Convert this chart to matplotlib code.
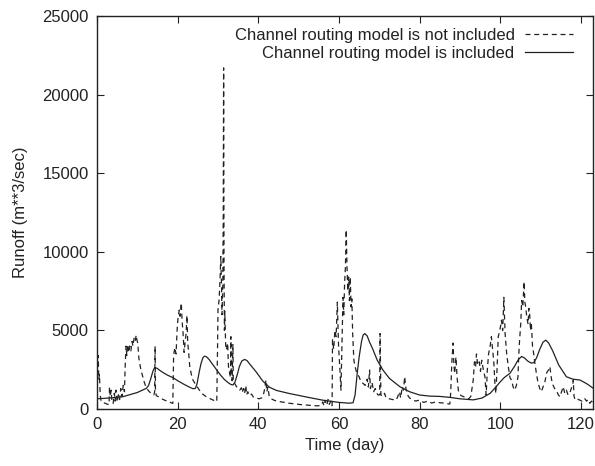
import matplotlib
matplotlib.use("Agg")
import matplotlib.pyplot as plt

plt.rcParams['font.family'] = ['Liberation Sans', 'DejaVu Sans']

# Channel routing model is NOT included (dashed)
days_nr = [0.0, 0.15, 0.3, 0.45, 0.6, 0.8, 1.0, 1.4, 1.8, 2.2, 2.6, 3.0, 3.1, 3.3, 3.5, 3.7, 4.0,
           4.3, 4.5, 4.7, 5.0, 5.3, 5.6, 5.9, 6.2, 6.5, 6.8, 7.0, 7.2, 7.4, 7.6, 7.9, 8.1, 8.4, 8.7,
           8.9, 9.2, 9.5, 9.7, 9.9, 10.1, 10.4, 10.8, 11.2, 11.6, 12.0, 12.4, 12.8, 13.2, 13.6, 14.1,
           14.3, 14.4, 14.5, 14.7, 15.2, 16.0, 16.8, 17.8, 18.8, 18.9, 19.0, 19.3, 19.6, 19.9, 20.1,
           20.4, 20.6, 20.9, 21.1, 21.3, 21.6, 21.9, 22.1, 22.3, 22.5, 22.7, 23.0, 23.4, 23.8, 24.6,
           25.4, 26.2, 27.1, 28.5, 29.7, 29.9, 30.0, 30.3, 30.5, 30.7, 30.9, 31.0, 31.2, 31.3, 31.4,
           31.5, 31.6, 31.7, 31.9, 32.1, 32.4, 32.6, 32.9, 33.1, 33.2, 33.3, 33.5, 33.7, 33.8, 34.2,
           34.6, 35.0, 35.4, 35.8, 36.0, 36.3, 36.6, 36.9, 37.1, 37.4, 37.8, 38.3, 38.8, 39.5, 40.2,
           40.8, 41.3, 41.6, 41.9, 42.1, 42.4, 42.7, 43.2, 44.0, 45.0, 46.5, 47.8, 49.0, 50.5, 51.9,
           53.0, 54.5, 55.5, 56.0, 56.3, 56.6, 57.0, 57.3, 57.6, 58.0, 58.3, 58.4, 58.7, 59.0, 59.3,
           59.6, 59.9, 60.2, 60.5, 60.7, 61.0, 61.2, 61.4, 61.6, 61.8, 62.0, 62.2, 62.4, 62.6, 62.8,
           63.0, 63.2, 63.4, 63.7, 64.0, 64.4, 65.0, 65.5, 66.0, 66.5, 67.0, 67.3, 67.6, 67.8, 68.2,
           68.6, 69.0, 69.4, 69.7, 70.1, 70.2, 70.4, 70.8, 71.3, 71.7, 72.5, 73.3, 74.2, 74.6, 75.0,
           75.3, 75.7, 76.0, 76.3, 76.6, 77.0, 77.5, 78.3, 79.0, 80.0, 81.0, 82.0, 83.0, 84.0, 85.0,
           86.0, 87.0, 87.5, 87.7, 88.0, 88.3, 88.5, 88.7, 89.0, 89.3, 89.6, 89.8, 90.3, 90.8, 91.5,
           92.2, 92.7, 93.0, 93.3, 93.6, 93.9, 94.1, 94.4, 94.8, 95.1, 95.4, 95.8, 96.2, 96.5, 96.8,
           97.1, 97.5, 97.8, 98.1, 98.4, 98.7, 98.9, 99.2, 99.5, 99.9, 100.3, 100.6, 100.9, 101.2,
           101.6, 102.0, 102.4, 102.8, 103.2, 103.6, 104.0, 104.4, 104.6, 104.8, 105.1, 105.3, 105.6,
           105.9, 106.1, 106.3, 106.6, 106.9, 107.1, 107.3, 107.5, 107.7, 108.0, 108.3, 108.6, 109.0,
           109.4, 109.8, 110.2, 110.6, 111.0, 111.5, 112.0, 112.3, 112.7, 113.1, 113.5, 113.9, 114.4,
           114.8, 115.2, 115.6, 116.0, 116.4, 116.8, 117.2, 117.6, 118.0, 118.1, 118.3, 118.6, 119.2,
           119.7, 120.3, 120.9, 121.4, 121.8, 122.2, 122.6, 122.9]
vals_nr = [4200, 2600, 3400, 1900, 2200, 900, 500, 420, 380, 350, 300, 280, 1400, 800, 1200, 500, 350,
           1000, 500, 1200, 450, 900, 600, 1300, 800, 1500, 1100, 2800, 4000, 3400, 4100, 3600, 4000,
           3700, 4300, 4000, 4500, 4300, 4700, 4400, 4200, 3200, 2600, 2200, 1800, 1500, 1300, 1150,
           1050, 950, 900, 1100, 4000, 1200, 850, 780, 650, 560, 450, 360, 2000, 3400, 3900, 3500,
           5200, 5800, 6300, 5900, 6750, 5600, 5000, 3600, 4400, 4800, 5950, 4200, 3700, 2700, 2200,
           1840, 1500, 1200, 950, 780, 600, 470, 4000, 6300, 7000, 8200, 9700, 7600, 6000, 8000,
           12000, 21700, 9000, 5000, 6200, 4100, 3750, 4200, 2700, 2260, 2000, 4600, 2500, 1800,
           4100, 1700, 1600, 1420, 1300, 1200, 1350, 1050, 1300, 990, 1500, 900, 1100, 850, 950, 750,
           700, 650, 700, 950, 1300, 1840, 1100, 1400, 800, 650, 550, 480, 420, 360, 330, 280, 250,
           230, 200, 220, 450, 200, 550, 250, 600, 300, 500, 210, 4400, 3800, 5000, 4600, 6800, 4000,
           2700, 1200, 3500, 7100, 6000, 8000, 9000, 11400, 9000, 7500, 8400, 6900, 8400, 6500, 7000,
           4800, 3100, 2700, 2300, 2050, 1700, 1630, 1500, 1900, 1400, 2480, 1300, 1700, 1100, 1300,
           1000, 890, 900, 4800, 900, 800, 1000, 700, 650, 600, 570, 800, 1100, 700, 1420, 1200, 2050,
           1300, 900, 700, 600, 500, 570, 420, 500, 380, 450, 400, 380, 330, 320, 990, 3000, 4200,
           2800, 2260, 3300, 2000, 1200, 990, 850, 800, 700, 650, 800, 1300, 1840, 3000, 2700, 3500,
           2800, 3000, 2400, 3100, 2500, 2050, 890, 2500, 3500, 4000, 4600, 3800, 3000, 1500, 990,
           2500, 4600, 5000, 5650, 5000, 7100, 4800, 3500, 2700, 2000, 1840, 1400, 1200, 1500, 2050,
           3500, 4400, 5500, 6900, 6500, 8100, 6800, 6500, 5800, 5400, 6400, 6000, 5000, 5500, 4000,
           3500, 2900, 2200, 1630, 1300, 1100, 1400, 1630, 2300, 2500, 2700, 1900, 1500, 1300, 1200,
           900, 780, 1100, 1420, 1000, 1200, 900, 990, 1300, 1600, 1840, 800, 570, 620, 570, 500, 680,
           500, 600, 360, 500, 450]

# Channel routing model is included (solid)
days_r = [0.0, 2.0, 4.0, 6.4, 8.0, 10.0, 12.2, 12.8, 13.3, 13.8, 14.1, 14.4, 14.9, 15.6, 16.5, 17.5,
          18.8, 20.0, 21.5, 23.0, 23.8, 24.4, 24.8, 25.3, 25.8, 26.3, 26.7, 27.2, 27.8, 28.5, 29.5,
          30.5, 31.5, 32.5, 33.2, 33.7, 34.2, 34.8, 35.3, 35.9, 36.6, 37.2, 37.9, 38.7, 39.5, 41.1,
          42.8, 44.5, 47.8, 52.0, 56.0, 60.0, 62.5, 63.5, 64.0, 64.5, 65.0, 65.6, 66.0, 66.4, 67.0,
          67.6, 68.4, 69.5, 70.9, 72.5, 75.1, 77.5, 80.0, 82.5, 85.0, 87.5, 90.0, 93.3, 95.5, 97.5,
          99.0, 99.9, 101.0, 102.4, 103.5, 104.5, 105.3, 106.0, 106.8, 107.7, 108.3, 109.0, 109.8,
          110.6, 111.3, 112.0, 113.0, 114.5, 116.4, 118.0, 119.8, 121.5, 123.0]
vals_r = [650, 680, 720, 780, 900, 1050, 1310, 1500, 1900, 2350, 2550, 2625, 2590, 2450, 2300, 2150,
          2000, 1800, 1580, 1380, 1290, 1310, 1600, 2300, 2900, 3280, 3365, 3310, 3150, 2900, 2550,
          2200, 1900, 1680, 1560, 1525, 1700, 2200, 2700, 3050, 3155, 3080, 2850, 2600, 2350, 1780,
          1380, 1180, 980, 760, 560, 420, 370, 400, 900, 2200, 3300, 4300, 4700, 4800, 4650, 4250,
          3800, 3100, 2480, 1950, 1420, 1100, 890, 820, 800, 740, 650, 580, 700, 1000, 1420, 1700,
          2000, 2270, 2700, 3150, 3340, 3250, 3050, 2920, 2950, 3250, 3800, 4250, 4380, 4200, 3700,
          2800, 2050, 1900, 1840, 1600, 1330]

fig = plt.figure(figsize=(5.95, 4.66), dpi=100)
ax = fig.add_axes([97/595, 1 - 409/466, (593 - 97)/595, (409 - 16)/466])

lc = '#222222'
ax.plot(days_nr, vals_nr, color=lc, lw=0.9, dashes=(4, 3),
        label='Channel routing model is not included')
ax.plot(days_r, vals_r, color=lc, lw=0.9, label='Channel routing model is included')

ax.set_xlim(0, 123)
ax.set_ylim(0, 25000)
ax.set_xticks([0, 20, 40, 60, 80, 100, 120])
ax.set_yticks([0, 5000, 10000, 15000, 20000, 25000])
ax.tick_params(direction='in', length=5, width=0.8, top=True, right=True,
               labelsize=12, colors='#222222', pad=6)
for s in ax.spines.values():
    s.set_linewidth(1.0)
    s.set_color('#222222')

ax.set_xlabel('Time (day)', fontsize=12, color='#222222', labelpad=4)
ax.set_ylabel('Runoff (m**3/sec)', fontsize=12, color='#222222', labelpad=10)

leg = ax.legend(loc='upper right', frameon=False, markerfirst=False, fontsize=12,
                handlelength=2.9, handletextpad=0.6, labelspacing=0.2,
                borderaxespad=0.3, bbox_to_anchor=(0.983, 1.0))
for t in leg.get_texts():
    t.set_color('#222222')

fig.savefig('out.png', dpi=100)
